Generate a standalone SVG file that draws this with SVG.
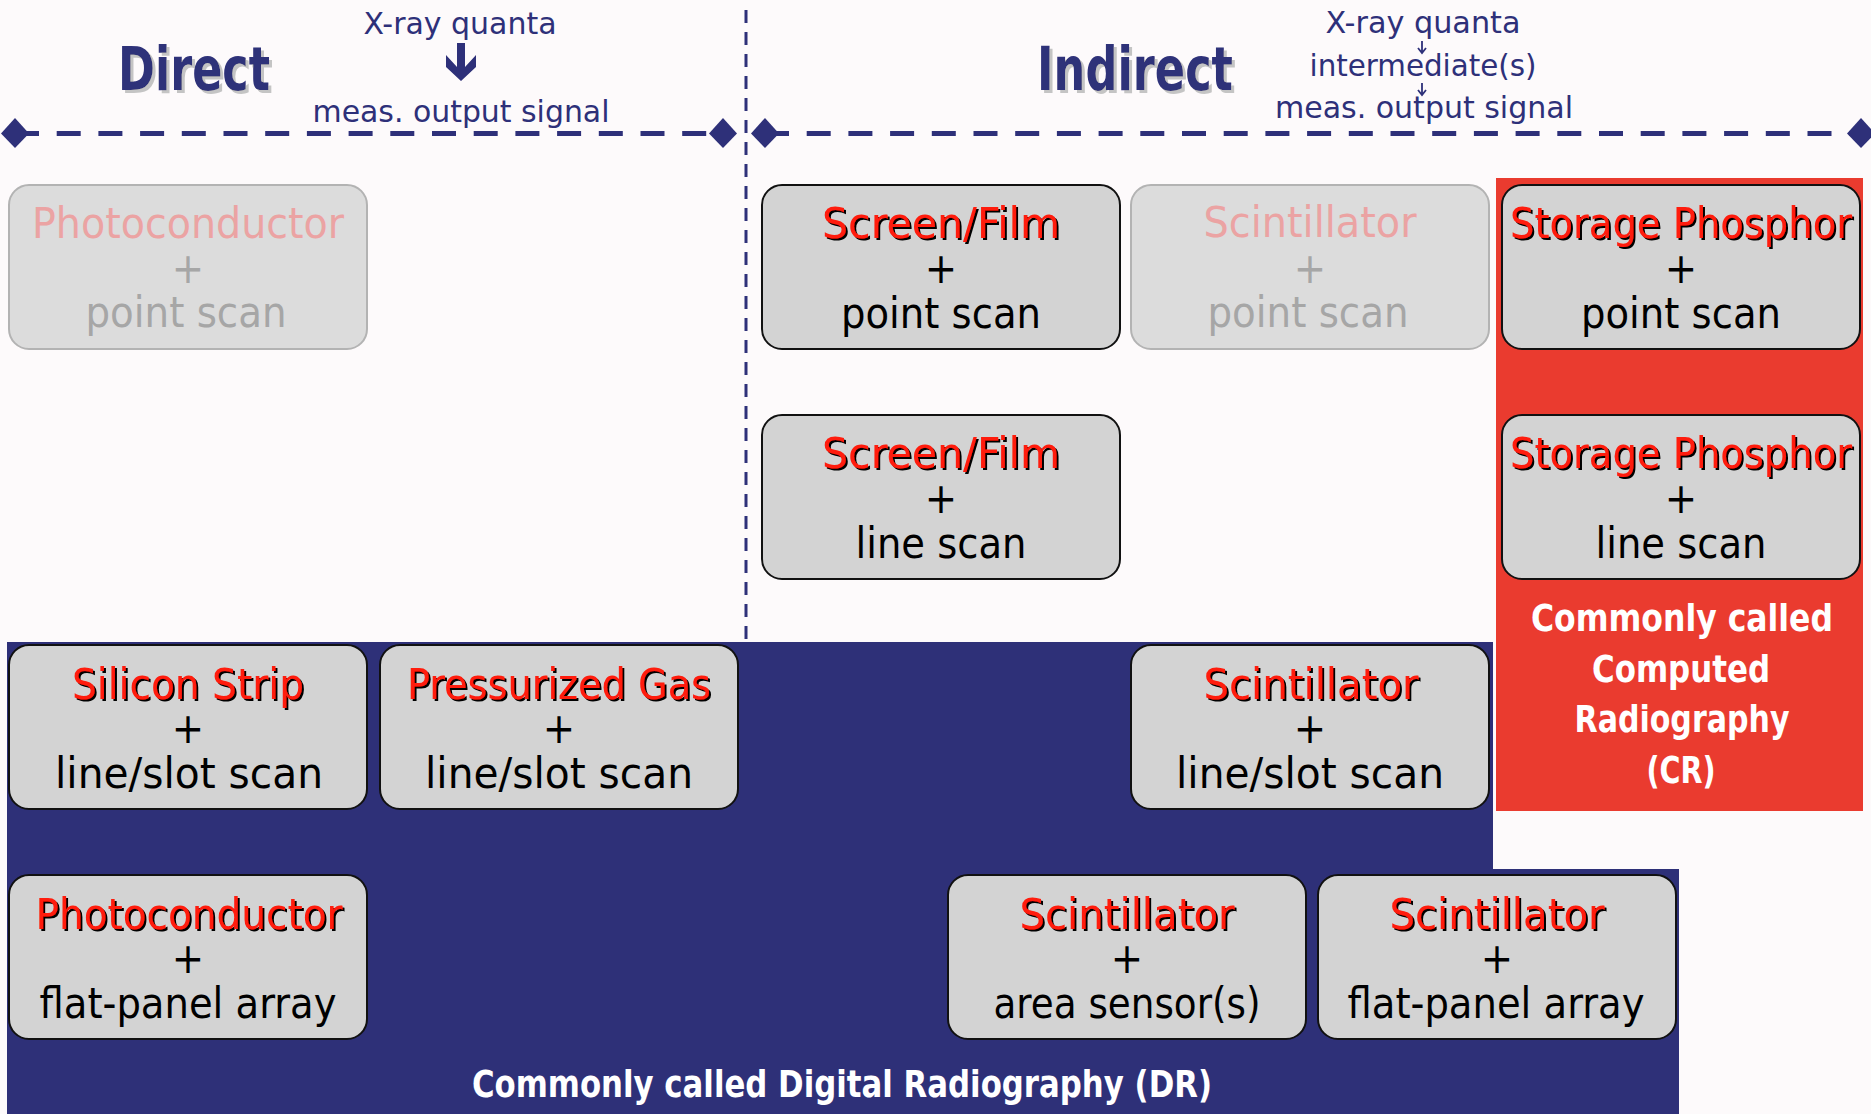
<svg xmlns="http://www.w3.org/2000/svg" width="1871" height="1114" viewBox="0 0 1871 1114">
  <defs>
    <style>
      .txt { font-family: "DejaVu Sans Condensed", "DejaVu Sans", sans-serif; font-stretch: condensed; text-anchor: middle; }
      .head { font-size: 60px; font-weight: bold; fill: #2e3079; }
      .note { font-size: 31px; fill: #2e3079; }
      .box { fill: #d3d3d3; stroke: #111; stroke-width: 2; }
      .box-dim { fill: #dcdcdc; stroke: #b3b3b3; stroke-width: 2; }
      .title { font-size: 43px; fill: #ff1a0a; }
      .title-dim { font-size: 43px; fill: #eba3a3; }
      .body { font-size: 43px; fill: #000; }
      .body-dim { font-size: 43px; fill: #a6a6a6; }
      .band { font-size: 38px; font-weight: bold; fill: #fff; }
      .dash-h { stroke: #2e3079; stroke-width: 5; stroke-dasharray: 24 17.7; fill: none; }
      .dash-v { stroke: #2e3079; stroke-width: 3; stroke-dasharray: 13 9; fill: none; }
      .ink { fill: #2e3079; }
      .thin { stroke: #2e3079; stroke-width: 1.8; fill: none; }
    </style>
    <filter id="greyShadow" x="-10%" y="-10%" width="130%" height="130%">
      <feDropShadow dx="3" dy="3" stdDeviation="0.6" flood-color="#c4c4c4" flood-opacity="1"/>
    </filter>
    <filter id="blackShadow" x="-10%" y="-10%" width="130%" height="130%">
      <feDropShadow dx="2" dy="2" stdDeviation="0.3" flood-color="#000" flood-opacity="1"/>
    </filter>
  </defs>

  <!-- page -->
  <rect x="0" y="0" width="1871" height="1114" fill="#fdfafb"/>

  <!-- coloured bands -->
  <g id="band-cr">
    <rect x="1496" y="178" width="367" height="633" fill="#ea3b2f"/>
  </g>
  <g id="band-dr">
    <path d="M7,642 H1493 V869 H1679 V1114 H7 Z" fill="#2e3078"/>
  </g>

  <!-- dividers and flow arrows -->
  <g id="connectors">
    <line class="dash-v" x1="746" y1="10" x2="746" y2="641"/>
    <line class="dash-h" x1="15" y1="133.5" x2="723" y2="133.5"/>
    <line class="dash-h" x1="765" y1="133.5" x2="1861" y2="133.5"/>
    <path class="ink" d="M15,118 L29,133.5 L15,148 L1,133.5 Z"/>
    <path class="ink" d="M723,118 L737,133.5 L723,148 L709,133.5 Z"/>
    <path class="ink" d="M765,118 L779,133.5 L765,148 L751,133.5 Z"/>
    <path class="ink" d="M1861,118 L1875,133.5 L1861,148 L1847,133.5 Z"/>
    <!-- thick arrow: quanta to signal -->
    <path class="ink" d="M457,43 V67 L446,55 V67 L461,81 L476,67 V55 L465,67 V43 Z"/>
    <!-- thin arrows: quanta to intermediates to signal -->
    <path class="thin" d="M1422,41 V53 M1418,48 L1422,53 L1426,48"/>
    <path class="thin" d="M1422,83 V95 M1418,90 L1422,95 L1426,90"/>
  </g>

  <!-- headings -->
  <g id="heading-direct">
    <text class="txt head" x="194" y="90" textLength="152" lengthAdjust="spacingAndGlyphs" filter="url(#greyShadow)">Direct</text>
    <text class="txt note" x="460" y="34" textLength="193" lengthAdjust="spacingAndGlyphs">X-ray quanta</text>
    <text class="txt note" x="461" y="122" textLength="297" lengthAdjust="spacingAndGlyphs">meas. output signal</text>
  </g>
  <g id="heading-indirect">
    <text class="txt head" x="1135" y="90" textLength="196" lengthAdjust="spacingAndGlyphs" filter="url(#greyShadow)">Indirect</text>
    <text class="txt note" x="1423" y="33" textLength="195" lengthAdjust="spacingAndGlyphs">X-ray quanta</text>
    <text class="txt note" x="1423" y="76" textLength="227" lengthAdjust="spacingAndGlyphs">intermediate(s)</text>
    <text class="txt note" x="1424" y="118" textLength="298" lengthAdjust="spacingAndGlyphs">meas. output signal</text>
  </g>

  <!-- detector nodes -->
  <g id="photoconductor-point">
    <rect class="box-dim" x="9" y="185" width="358" height="164" rx="20"/>
    <text class="txt title-dim" x="188" y="238" textLength="312" lengthAdjust="spacingAndGlyphs">Photoconductor</text>
    <text class="txt body-dim" x="188" y="283">+</text>
    <text class="txt body-dim" x="186" y="327" textLength="201" lengthAdjust="spacingAndGlyphs">point scan</text>
  </g>

  <g id="screenfilm-point">
    <rect class="box" x="762" y="185" width="358" height="164" rx="20"/>
    <text class="txt title" x="941" y="238" textLength="238" lengthAdjust="spacingAndGlyphs" filter="url(#blackShadow)">Screen/Film</text>
    <text class="txt body" x="941" y="283">+</text>
    <text class="txt body" x="941" y="328" textLength="200" lengthAdjust="spacingAndGlyphs">point scan</text>
  </g>

  <g id="scintillator-point">
    <rect class="box-dim" x="1131" y="185" width="358" height="164" rx="20"/>
    <text class="txt title-dim" x="1310" y="237" textLength="213" lengthAdjust="spacingAndGlyphs">Scintillator</text>
    <text class="txt body-dim" x="1310" y="283">+</text>
    <text class="txt body-dim" x="1308" y="327" textLength="201" lengthAdjust="spacingAndGlyphs">point scan</text>
  </g>

  <g id="storagephosphor-point">
    <rect class="box" x="1502" y="185" width="358" height="164" rx="20"/>
    <text class="txt title" x="1681" y="238" textLength="342" lengthAdjust="spacingAndGlyphs" filter="url(#blackShadow)">Storage Phosphor</text>
    <text class="txt body" x="1681" y="283">+</text>
    <text class="txt body" x="1681" y="328" textLength="200" lengthAdjust="spacingAndGlyphs">point scan</text>
  </g>

  <g id="screenfilm-line">
    <rect class="box" x="762" y="415" width="358" height="164" rx="20"/>
    <text class="txt title" x="941" y="468" textLength="238" lengthAdjust="spacingAndGlyphs" filter="url(#blackShadow)">Screen/Film</text>
    <text class="txt body" x="941" y="513">+</text>
    <text class="txt body" x="941" y="558" textLength="171" lengthAdjust="spacingAndGlyphs">line scan</text>
  </g>

  <g id="storagephosphor-line">
    <rect class="box" x="1502" y="415" width="358" height="164" rx="20"/>
    <text class="txt title" x="1681" y="468" textLength="342" lengthAdjust="spacingAndGlyphs" filter="url(#blackShadow)">Storage Phosphor</text>
    <text class="txt body" x="1681" y="513">+</text>
    <text class="txt body" x="1681" y="558" textLength="171" lengthAdjust="spacingAndGlyphs">line scan</text>
  </g>

  <g id="siliconstrip-slot">
    <rect class="box" x="9" y="645" width="358" height="164" rx="20"/>
    <text class="txt title" x="188" y="699" textLength="232" lengthAdjust="spacingAndGlyphs" filter="url(#blackShadow)">Silicon Strip</text>
    <text class="txt body" x="188" y="743">+</text>
    <text class="txt body" x="189" y="788" textLength="268" lengthAdjust="spacingAndGlyphs">line/slot scan</text>
  </g>

  <g id="pressurizedgas-slot">
    <rect class="box" x="380" y="645" width="358" height="164" rx="20"/>
    <text class="txt title" x="559" y="699" textLength="304" lengthAdjust="spacingAndGlyphs" filter="url(#blackShadow)">Pressurized Gas</text>
    <text class="txt body" x="559" y="743">+</text>
    <text class="txt body" x="559" y="788" textLength="268" lengthAdjust="spacingAndGlyphs">line/slot scan</text>
  </g>

  <g id="scintillator-slot">
    <rect class="box" x="1131" y="645" width="358" height="164" rx="20"/>
    <text class="txt title" x="1311" y="699" textLength="215" lengthAdjust="spacingAndGlyphs" filter="url(#blackShadow)">Scintillator</text>
    <text class="txt body" x="1310" y="743">+</text>
    <text class="txt body" x="1310" y="788" textLength="268" lengthAdjust="spacingAndGlyphs">line/slot scan</text>
  </g>

  <g id="photoconductor-flatpanel">
    <rect class="box" x="9" y="875" width="358" height="164" rx="20"/>
    <text class="txt title" x="189" y="929" textLength="307" lengthAdjust="spacingAndGlyphs" filter="url(#blackShadow)">Photoconductor</text>
    <text class="txt body" x="188" y="973">+</text>
    <text class="txt body" x="188" y="1018" textLength="297" lengthAdjust="spacingAndGlyphs">flat-panel array</text>
  </g>

  <g id="scintillator-area">
    <rect class="box" x="948" y="875" width="358" height="164" rx="20"/>
    <text class="txt title" x="1127" y="929" textLength="215" lengthAdjust="spacingAndGlyphs" filter="url(#blackShadow)">Scintillator</text>
    <text class="txt body" x="1127" y="973">+</text>
    <text class="txt body" x="1127" y="1018" textLength="267" lengthAdjust="spacingAndGlyphs">area sensor(s)</text>
  </g>

  <g id="scintillator-flatpanel">
    <rect class="box" x="1318" y="875" width="358" height="164" rx="20"/>
    <text class="txt title" x="1497" y="929" textLength="215" lengthAdjust="spacingAndGlyphs" filter="url(#blackShadow)">Scintillator</text>
    <text class="txt body" x="1497" y="973">+</text>
    <text class="txt body" x="1496" y="1018" textLength="297" lengthAdjust="spacingAndGlyphs">flat-panel array</text>
  </g>

  <!-- band captions -->
  <g id="caption-cr">
    <text class="txt band" x="1682" y="631" textLength="302" lengthAdjust="spacingAndGlyphs">Commonly called</text>
    <text class="txt band" x="1681" y="682" textLength="178" lengthAdjust="spacingAndGlyphs">Computed</text>
    <text class="txt band" x="1682" y="732" textLength="215" lengthAdjust="spacingAndGlyphs">Radiography</text>
    <text class="txt band" x="1681" y="783" textLength="69" lengthAdjust="spacingAndGlyphs">(CR)</text>
  </g>
  <g id="caption-dr">
    <text class="txt band" x="842" y="1097" textLength="740" lengthAdjust="spacingAndGlyphs">Commonly called Digital Radiography (DR)</text>
  </g>
</svg>
